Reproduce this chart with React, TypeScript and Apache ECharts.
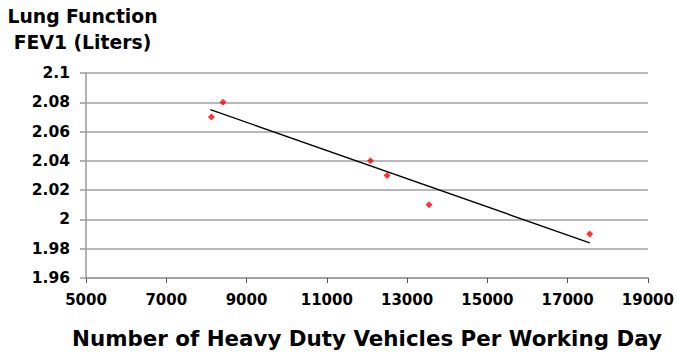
import React, { useEffect, useRef } from "react";
import * as echarts from "echarts";

const vehicles = [8126, 8414, 12087, 12502, 13547, 17550];
const fev1 = [2.07, 2.08, 2.04, 2.03, 2.01, 1.99];
const trendX = [8100, 17550];
const trendY = [2.075, 1.984];
const xTickLabels = [5000, 7000, 9000, 11000, 13000, 15000, 17000, 19000];
const yTitle = ["Lung Function", "FEV1 (Liters)"];
const xTitle = "Number of Heavy Duty Vehicles Per Working Day";

const FONT = "DejaVu Sans";

export default function App() {
  const ref = useRef<HTMLDivElement>(null);
  useEffect(() => {
    if (!ref.current) return;
    const chart = echarts.init(ref.current, undefined, { renderer: "svg" });
    chart.setOption({
      animation: false,
      backgroundColor: "#ffffff",
      grid: { left: 86, right: 28, top: 73, bottom: 76, containLabel: false },
      graphic: [
        {
          type: "text",
          x: 82.5,
          y: 29,
          style: {
            text: yTitle.join("\n"),
            fontFamily: FONT,
            fontWeight: "bold",
            fontSize: 18.8,
            lineHeight: 26,
            fill: "#000",
            align: "center",
            verticalAlign: "middle",
          },
        },
      ],
      xAxis: {
        type: "value",
        min: 5000,
        max: 19000,
        interval: 1000,
        name: xTitle,
        nameLocation: "middle",
        nameGap: 50,
        nameTextStyle: {
          fontFamily: FONT,
          fontWeight: "bold",
          fontSize: 21.4,
          color: "#000",
        },
        axisLine: { show: true, lineStyle: { color: "#9a9a9a", width: 1.5 } },
        axisTick: {
          show: true,
          length: 5,
          customValues: xTickLabels,
          lineStyle: { color: "#555", width: 1 },
        },
        axisLabel: {
          customValues: xTickLabels,
          margin: 14,
          fontFamily: FONT,
          fontWeight: "bold",
          fontSize: 15,
          color: "#000",
          formatter: (v: number) => String(v),
        },
        splitLine: { show: false },
      },
      yAxis: {
        type: "value",
        min: 1.96,
        max: 2.1,
        interval: 0.02,
        axisLine: { show: true, lineStyle: { color: "#9a9a9a", width: 1.5 } },
        axisTick: { show: true, length: 6, lineStyle: { color: "#9a9a9a", width: 1.5 } },
        axisLabel: {
          margin: 16,
          fontFamily: FONT,
          fontWeight: "bold",
          fontSize: 15.5,
          color: "#000",
          formatter: (v: number) => String(+v.toFixed(2)),
        },
        splitLine: { show: true, lineStyle: { color: "#a0a0a0", width: 1.5 } },
      },
      series: [
        {
          type: "line",
          data: trendX.map((x, i) => [x, trendY[i]]),
          symbol: "none",
          lineStyle: { color: "#000", width: 1.4 },
          z: 2,
        },
        {
          type: "scatter",
          data: vehicles.map((x, i) => [x, fev1[i]]),
          symbol: "diamond",
          symbolSize: 7,
          itemStyle: { color: "#ff0000" },
          z: 3,
        },
      ],
    });
    return () => chart.dispose();
  }, []);
  return (
    <div
      ref={ref}
      style={{ position: "fixed", left: 0, top: 0, width: 677, height: 354 }}
    />
  );
}
